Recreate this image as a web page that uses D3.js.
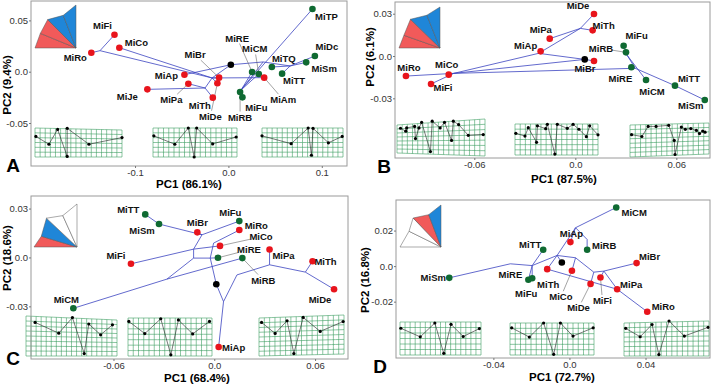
<!DOCTYPE html>
<html>
<head>
<meta charset="utf-8">
<script src="https://cdn.jsdelivr.net/npm/d3@7"></script>
<style>
  body { margin: 0; background: #fff; }
  svg { display: block; }
  text { font-family: "Liberation Sans", Arial, sans-serif; }
</style>
</head>
<body>
<div id="chart"></div>
<script>
// ---- data (PC scores of tips, estimated ancestral nodes) ----
const taxaA = ["MiTP","MiDc","MiSm","MiTQ","MiTT","MiRE","MiCM","MiAm","MiFu","MiRB","MiFi","MiCo","MiRo","MiBr","MiAp","MiJe","MiPa","MiDe","MiTh"];
const pc1A  = [0.090,0.0926,0.0833,0.0465,0.0575,0.0254,0.0325,0.0383,0.0150,0.0125,-0.122,-0.1168,-0.1468,-0.010,-0.0471,-0.0868,-0.0429,-0.0118,-0.0167];
const pc2A  = [0.0611,0.0153,0.0091,0.0046,-0.0019,-0.0003,-0.0022,-0.0058,-0.025,-0.0198,0.036,0.0234,0.0185,-0.0058,-0.0029,-0.0172,-0.0117,-0.0113,-0.0253];
const groupA = ["g","g","g","g","g","g","g","r","g","g","r","r","r","r","r","r","r","r","r"];
const ancA = [["root",0.0026,0.0068],["a1",-0.0175,-0.0061],["a2",-0.1375,0.0205],["a3",-0.025,-0.0159],["a4",0.0372,0.0095],["a5",0.0136,-0.0178],["a6",0.0661,0.0056]];
const edgesA = [["root","a1"],["root","a4"],["a1","a2"],["a2","MiRo"],["a2","MiFi"],["a1","MiCo"],["a1","MiBr"],["a1","MiDe"],["a1","a3"],["root","MiAp"],["a3","MiPa"],["a3","MiJe"],["a3","MiTh"],["a1","MiAm"],["a4","a5"],["a5","MiRB"],["a5","MiFu"],["a5","MiTP"],["a5","MiRE"],["a5","MiCM"],["a4","a6"],["a6","MiSm"],["a6","MiDc"],["a6","MiTT"],["a6","MiTQ"]];

const taxaB = ["MiDe","MiTh","MiPa","MiAp","MiBr","MiRo","MiCo","MiFi","MiFu","MiRB","MiRE","MiCM","MiTT","MiSm"];
const pc1B  = [0.0111,0.0103,-0.0152,-0.0206,0.0111,-0.1006,-0.0752,-0.0857,0.0287,0.0301,0.0333,0.042,0.0592,0.0769];
const pc2B  = [0.0298,0.0182,0.0123,0.0033,-0.0035,-0.0142,-0.0132,-0.0198,0.0073,0.0026,-0.0080,-0.017,-0.021,-0.0312];
const groupB = ["r","r","r","r","r","r","r","r","g","g","g","g","g","g"];
const ancB = [["root",0.0056,-0.0024],["b1",-0.0722,-0.0123],["b2",-0.0218,0.0019],["b3",0.003,0.0196],["b4",0.0356,-0.0087],["b5",0.0307,0.0007]];
const edgesB = [["root","b1"],["b1","MiRo"],["b1","MiFi"],["b1","MiCo"],["b1","b2"],["b2","MiAp"],["b2","b3"],["b3","MiPa"],["b3","MiDe"],["b3","MiTh"],["root","b2"],["root","MiBr"],["b1","b4"],["b4","MiRE"],["b4","b5"],["b5","MiFu"],["b5","MiRB"],["b5","MiCM"],["b4","MiTT"],["MiTT","MiSm"]];

const taxaC = ["MiTT","MiSm","MiBr","MiFu","MiRo","MiCo","MiRE","MiRB","MiPa","MiTh","MiDe","MiFi","MiCM","MiAp"];
const pc1C  = [-0.0411,-0.0329,-0.0101,0.0149,0.0149,0.0034,0.0022,0.0167,0.0329,0.0585,0.0713,-0.0496,-0.0839,0.0026];
const pc2C  = [0.0264,0.0205,0.0154,0.0223,0.0168,0.0071,-0.0002,-0.0004,0.0049,-0.0023,-0.0195,-0.0039,-0.0312,-0.0549];
const groupC = ["g","g","r","g","r","r","g","g","r","r","r","r","g","r"];
const ancC = [["root",0.0012,-0.0164],["c1",0.0055,-0.0271],["c2",0.0135,-0.0107],["c3",0.0329,-0.0045],["c4",0.0542,-0.0090],["c5",-0.0024,-0.0004],["c6",-0.0123,-0.0004],["c7",-0.0282,-0.0133],["c8",-0.0073,0.0139],["c9",-0.0123,0.0051],["c10",-0.0004,0.0088]];
const edgesC = [["root","c1"],["c1","MiAp"],["c1","c2"],["c2","c3"],["c3","MiPa"],["c3","c4"],["c4","MiTh"],["c4","MiDe"],["root","c5"],["c5","MiRE"],["c5","c6"],["c6","c7"],["c7","MiCM"],["c7","MiRB"],["c6","c9"],["c9","MiFi"],["c9","MiCo"],["c9","c8"],["c8","MiBr"],["c8","MiFu"],["c8","MiSm"],["MiSm","MiTT"],["c5","c10"],["c10","MiRo"]];

const taxaD = ["MiCM","MiAp","MiRB","MiTT","MiBr","MiTh","MiCo","MiSm","MiRE","MiFu","MiFi","MiDe","MiPa","MiRo"];
const pc1D  = [0.0246,0.0005,0.0093,-0.0138,0.0353,-0.0117,0.0013,-0.0632,-0.0216,-0.0196,0.0163,0.0111,0.0251,0.0409];
const pc2D  = [0.0330,0.0135,0.0092,0.0092,0.0017,-0.0017,-0.0026,-0.0066,-0.0077,-0.0068,-0.0064,-0.0100,-0.0130,-0.0257];
const groupD = ["g","r","g","g","r","r","r","g","g","g","r","r","r","r"];
const ancD = [["root",-0.004,0.0020],["d1",-0.0311,0.0013],["d2",-0.0196,0.0003],["d3",-0.0065,0.0060],["d4",0.0032,0.0216],["d5",0.0032,0.0047],["d6",0.0128,-0.0034],["d7",0.0181,-0.0028],["d8",0.0093,0.0150]];
const edgesD = [["root","d3"],["d3","d2"],["d2","d1"],["d1","MiSm"],["d2","MiRE"],["d2","MiFu"],["d2","MiTT"],["d3","d4"],["d4","MiCM"],["d4","MiAp"],["d4","d8"],["d8","MiRB"],["d3","MiTh"],["d3","d5"],["d5","MiCo"],["d5","d6"],["d6","MiDe"],["d6","d7"],["d7","MiFi"],["d7","MiBr"],["d7","MiPa"],["MiTh","MiPa"],["MiPa","MiRo"]];

// axis ticks
const xTicksA = [-0.1, 0, 0.1],    xTickLabA = ["-0.1","0.0","0.1"];
const yTicksA = [-0.05, 0, 0.05],  yTickLabA = ["-0.05","0.0","0.05"];
const xTicksB = [-0.06, 0, 0.06],  xTickLabB = ["-0.06","0.0","0.06"];
const yTicksB = [-0.03, 0, 0.03],  yTickLabB = ["-0.03","0.0","0.03"];
const xTicksC = [-0.06, 0, 0.06],  xTickLabC = ["-0.06","0.0","0.06"];
const yTicksC = [-0.03, 0, 0.03],  yTickLabC = ["-0.03","0.0","0.03"];
const xTicksD = [-0.04, 0, 0.04],  xTickLabD = ["-0.04","0.0","0.04"];
const yTicksD = [-0.02, 0, 0.02],  yTickLabD = ["-0.02","0.0","0.02"];

// landmark configurations of the deformation grids (0-100 inside each inset)
const lmA1 = [[1,29],[16,56],[26,5],[37,98],[37,1],[62,56],[100,33]];
const lmA2 = [[1,27],[26,56],[42,0],[49,100],[52,0],[71,55],[99,31]];
const lmA3 = [[0,27],[36,54],[57,0],[61,94],[63,1],[82,51],[99,29]];
const lmB1 = [[4,25],[10,33],[11,24],[20,20],[21,53],[25,24],[28,9],[38,88],[40,6],[49,24],[54,9],[62,58],[64,6],[70,15],[81,44],[98,42]];
const lmB2 = [[1,30],[12,39],[16,12],[26,59],[27,6],[37,15],[39,1],[48,97],[51,1],[63,14],[70,1],[77,17],[86,41],[90,6],[100,35]];
const lmB3 = [[2,38],[15,43],[23,15],[33,15],[49,12],[56,54],[57,93],[65,17],[70,23],[77,21],[84,26],[88,35],[92,28],[95,31]];
const lmC1 = [[10,16],[36,43],[51,4],[64,94],[69,20],[82,47],[95,22]];
const lmC2 = [[1,9],[20,41],[39,2],[51,97],[60,5],[77,42],[97,9]];
const lmC3 = [[3,18],[19,45],[33,14],[41,94],[52,6],[72,40],[99,16]];
const lmD1 = [[1,19],[25,45],[43,3],[54,95],[63,7],[78,44],[98,20]];
const lmD2 = [[2,15],[23,44],[40,0],[52,98],[60,0],[75,41],[99,15]];
const lmD3 = [[2,21],[19,45],[33,10],[41,96],[53,0],[71,43],[99,18]];

// shape icons: outline vertices fanned from the lower-right corner, one colour per triangle
const iconVA = [[0,1],[0.13,0.66],[0.31,0.34],[0.69,0.24],[1,0]], iconFA = ["red","red","blue","blue"];
const iconVB = [[0,1],[0.12,0.69],[0.28,0.30],[0.68,0.20],[1,0]], iconFB = ["red","red","blue","blue"];
const iconVC = [[0,1],[0.17,0.75],[0.29,0.33],[0.67,0.27],[1,0]], iconFC = ["red","blue","white","white"];
const iconVD = [[0,1],[0.22,0.625],[0.32,0.31],[0.70,0.23],[1,0]], iconFD = ["white","white","red","blue"];

// ---- layout (label offsets in px from the point) ----
const labA = {MiTP:[14,7],MiDc:[12,-10],MiSm:[18,6],MiTQ:[12,-8],MiTT:[12,7],MiRE:[-15,-34],MiCM:[-4,-25],MiAm:[19,22],MiFu:[14,10],MiRB:[0,25],MiFi:[-12,-9],MiCo:[17,-5],MiRo:[-16,5],MiBr:[-24,-23],MiAp:[-18,1],MiJe:[-20,7],MiPa:[-17,16],MiTh:[-13,8],MiDe:[-7,33]};
const labB = {MiDe:[-16,-8],MiTh:[11,-5],MiPa:[-9,-9],MiAp:[-15,-6],MiBr:[-9,8],MiRo:[3,-9],MiCo:[-2,-10],MiFi:[12,4],MiFu:[13,-10],MiRB:[-25,-4],MiRE:[-11,11],MiCM:[6,11],MiTT:[14,-7],MiSm:[-14,5]};
const labC = {MiTT:[-17,-5],MiSm:[-17,6],MiBr:[0,-10],MiFu:[-9,-9],MiRo:[17,-5],MiCo:[41,-9],MiRE:[31,-8],MiRB:[21,22],MiPa:[14,6],MiTh:[13,0],MiDe:[-14,10],MiFi:[-15,-8],MiCM:[-7,-9],MiAp:[15,1]};
const labD = {MiCM:[18,5],MiAp:[1,-9],MiRB:[17,-4],MiTT:[-13,-5],MiBr:[13,-7],MiSm:[-16,0],MiRE:[-18,-5],MiFu:[-6,15],MiTh:[1,15],MiCo:[-11,26],MiDe:[-12,24],MiFi:[2,23],MiPa:[14,-5],MiRo:[16,-5]};

const panels = [
  {id:"A", ox:0, oy:0, rect:[31,1,347,166], xd:[-0.2114,0.127], yd:[-0.0919,0.0689],
   taxa:taxaA, pc1:pc1A, pc2:pc2A, grp:groupA, anc:ancA, edges:edgesA, lab:labA, lead:["MiRE","MiCM","MiAm","MiRB","MiBr","MiPa","MiDe"],
   xt:xTicksA, xtl:xTickLabA, yt:yTicksA, ytl:yTickLabA, xTitle:"PC1 (86.1%)", yTitle:"PC2 (9.4%)",
   xTitlePos:[189,184], yTitlePos:[7,85], letter:[13,165],
   icon:{box:[35,5,41,43], v:iconVA, f:iconFA},
   grids:[{box:[35,128,87,29], warp:[0,0,0,2,0,0,0,0], lm:lmA1},{box:[153,128,84,29], warp:[0,0,0,0,0,0,0,0], lm:lmA2},{box:[262,128,81,29], warp:[0,0,0,0,0,0,0,0], lm:lmA3}]},
  {id:"B", ox:357, oy:0, rect:[38,2,353,158], xd:[-0.1071,0.080], yd:[-0.0723,0.0383],
   taxa:taxaB, pc1:pc1B, pc2:pc2B, grp:groupB, anc:ancB, edges:edgesB, lab:labB, lead:["MiRB"],
   xt:xTicksB, xtl:xTickLabB, yt:yTicksB, ytl:yTickLabB, xTitle:"PC1 (87.5%)", yTitle:"PC2 (6.1%)",
   xTitlePos:[207,179], yTitlePos:[13,57], letter:[27,166],
   icon:{box:[42,7,41,41], v:iconVB, f:iconFB},
   grids:[{box:[40,119,88,37], warp:[0,6,0,0,0,-3,0,0], lm:lmB1},{box:[158,124,83,31], warp:[0,0,0,0,0,0,0,0], lm:lmB2},{box:[273,121,79,36], warp:[0,4,0,2,0,0,0,-3], lm:lmB3}]},
  {id:"C", ox:0, oy:193, rect:[31,3,348,166], xd:[-0.1091,0.0796], yd:[-0.0623,0.0377],
   taxa:taxaC, pc1:pc1C, pc2:pc2C, grp:groupC, anc:ancC, edges:edgesC, lab:labC, lead:["MiCo","MiRE","MiRB"],
   xt:xTicksC, xtl:xTickLabC, yt:yTicksC, ytl:yTickLabC, xTitle:"PC1 (68.4%)", yTitle:"PC2 (18.6%)",
   xTitlePos:[197,184.5], yTitlePos:[7,65], letter:[13,165],
   icon:{box:[34,11,43,43], v:iconVC, f:iconFC},
   grids:[{box:[26,123,91,40], warp:[0,0,0,4,0,0,0,0], lm:lmC1},{box:[128,125,84,38], warp:[0,0,0,0,0,0,0,0], lm:lmC2},{box:[259,122,85,41], warp:[0,3,0,0,0,0,0,-2], lm:lmC3}]},
  {id:"D", ox:357, oy:193, rect:[39,7,353,165], xd:[-0.0912,0.0739], yd:[-0.0517,0.0372],
   taxa:taxaD, pc1:pc1D, pc2:pc2D, grp:groupD, anc:ancD, edges:edgesD, lab:labD, lead:["MiCo","MiDe","MiFi"],
   xt:xTicksD, xtl:xTickLabD, yt:yTicksD, ytl:yTickLabD, xTitle:"PC1 (72.7%)", yTitle:"PC2 (16.8%)",
   xTitlePos:[205,184], yTitlePos:[8,87], letter:[23,173],
   icon:{box:[43,12,41,42], v:iconVD, f:iconFD},
   grids:[{box:[43,129,81,33], warp:[0,0,0,0,0,0,0,0], lm:lmD1},{box:[153,130,84,32], warp:[0,0,0,0,0,0,0,0], lm:lmD2},{box:[267,128,85,35], warp:[0,2,0,0,0,0,0,0], lm:lmD3}]}
];

const ptCol = {r:"#e8141c", g:"#0f6a32", root:"#000"};
const iconCol = {red:"#f15a5a", blue:"#1f86d8", white:"#fff"};

const svg = d3.select("#chart").append("svg")
    .attr("width", 714).attr("height", 386);

panels.forEach(p => {
  const [x0, y0, x1, y1] = p.rect;
  const x = d3.scaleLinear().domain(p.xd).range([x0, x1]);
  const y = d3.scaleLinear().domain(p.yd).range([y1, y0]);
  const g = svg.append("g").attr("transform", `translate(${p.ox},${p.oy})`);

  // position lookup for tips and internal nodes
  const pos = {};
  p.taxa.forEach((t, i) => pos[t] = [x(p.pc1[i]), y(p.pc2[i])]);
  p.anc.forEach(a => pos[a[0]] = [x(a[1]), y(a[2])]);

  // deformation grids
  p.grids.forEach(gr => {
    const [bx, by, bw, bh] = gr.box, w = gr.warp;
    const warp = (u, v) => [
      bx + u * bw + (1-u)*(1-v)*w[0] + u*(1-v)*w[2] + (1-u)*v*w[4] + u*v*w[6],
      by + v * bh + (1-u)*(1-v)*w[1] + u*(1-v)*w[3] + (1-u)*v*w[5] + u*v*w[7]
    ];
    const nc = Math.round(bw / 5.2), nr = Math.round(bh / 5.2);
    const lines = [];
    for (let i = 0; i <= nc; i++) lines.push(d3.range(0, 1.001, 0.1).map(v => warp(i / nc, v)));
    for (let j = 0; j <= nr; j++) lines.push(d3.range(0, 1.001, 0.05).map(u => warp(u, j / nr)));
    g.append("g").selectAll("path").data(lines).join("path")
      .attr("d", d3.line()).attr("fill", "none")
      .attr("stroke", "#3c9d62").attr("stroke-width", 0.6);
    const lx = d3.scaleLinear().domain([0, 100]).range([bx, bx + bw]);
    const ly = d3.scaleLinear().domain([0, 100]).range([by, by + bh]);
    g.append("path").datum(gr.lm)
      .attr("d", d3.line(d => lx(d[0]), d => ly(d[1])))
      .attr("fill", "none").attr("stroke", "#222").attr("stroke-width", 0.6);
    g.append("g").selectAll("circle").data(gr.lm).join("circle")
      .attr("cx", d => lx(d[0])).attr("cy", d => ly(d[1])).attr("r", 1.6).attr("fill", "#000");
  });

  // shape icon
  const [ix, iy, iw, ih] = p.icon.box;
  const apex = [ix + iw, iy + ih];
  const vv = p.icon.v.map(d => [ix + d[0] * iw, iy + d[1] * ih]);
  p.icon.f.forEach((c, i) => {
    g.append("path").attr("d", d3.line()([vv[i], vv[i + 1], apex]) + "Z")
      .attr("fill", iconCol[c]).attr("stroke", "#555").attr("stroke-width", 0.5);
  });

  // tree branches
  g.append("g").selectAll("line").data(p.edges).join("line")
    .attr("x1", d => pos[d[0]][0]).attr("y1", d => pos[d[0]][1])
    .attr("x2", d => pos[d[1]][0]).attr("y2", d => pos[d[1]][1])
    .attr("stroke", "#3b44c0").attr("stroke-width", 0.8);

  // leader lines
  p.lead.forEach(t => {
    const [px, py] = pos[t], o = p.lab[t];
    const lx = px + o[0], ly = py + o[1];
    const dx = px - lx, dy = py - ly, L = Math.hypot(dx, dy);
    const s = Math.min(dx ? 11 / Math.abs(dx) : 9, dy ? 5.5 / Math.abs(dy) : 9);
    g.append("line")
      .attr("x1", lx + dx * s).attr("y1", ly + dy * s)
      .attr("x2", px - dx / L * 3).attr("y2", py - dy / L * 3)
      .attr("stroke", "#666").attr("stroke-width", 0.6);
  });

  // points
  g.append("circle").attr("cx", pos.root[0]).attr("cy", pos.root[1]).attr("r", 3.3).attr("fill", ptCol.root);
  g.append("g").selectAll("circle").data(p.taxa).join("circle")
    .attr("cx", d => pos[d][0]).attr("cy", d => pos[d][1])
    .attr("r", 3.3).attr("fill", (d, i) => ptCol[p.grp[i]]);

  // tip labels
  g.append("g").selectAll("text").data(p.taxa).join("text")
    .attr("x", d => pos[d][0] + p.lab[d][0])
    .attr("y", d => pos[d][1] + p.lab[d][1])
    .attr("text-anchor", "middle").attr("dominant-baseline", "central")
    .style("font-size", "9.5px").style("font-weight", "bold").attr("fill", "#111")
    .text(d => d);

  // frame
  g.append("rect").attr("x", x0).attr("y", y0).attr("width", x1 - x0).attr("height", y1 - y0)
    .attr("fill", "none").attr("stroke", "#9a9a9a").attr("stroke-width", 1);

  // axes
  const xa = g.append("g").attr("transform", `translate(0,${y1})`)
    .call(d3.axisBottom(x).tickValues(p.xt).tickFormat((d, i) => p.xtl[i]).tickSize(2).tickPadding(1));
  const ya = g.append("g").attr("transform", `translate(${x0},0)`)
    .call(d3.axisLeft(y).tickValues(p.yt).tickFormat((d, i) => p.ytl[i]).tickSize(2).tickPadding(1));
  [xa, ya].forEach(a => {
    a.select(".domain").remove();
    a.selectAll(".tick line").attr("stroke", "#777");
    a.selectAll("text").style("font-size", "9.5px").attr("fill", "#333")
      .style("font-family", "'Liberation Sans', Arial, sans-serif");
  });

  // titles
  g.append("text").attr("x", p.xTitlePos[0]).attr("y", p.xTitlePos[1])
    .attr("text-anchor", "middle").attr("dominant-baseline", "central")
    .style("font-size", "11.5px").style("font-weight", "bold").text(p.xTitle);
  g.append("text")
    .attr("transform", `translate(${p.yTitlePos[0]},${p.yTitlePos[1]}) rotate(-90)`)
    .attr("text-anchor", "middle").attr("dominant-baseline", "central")
    .style("font-size", "11.5px").style("font-weight", "bold").text(p.yTitle);
  g.append("text").attr("x", p.letter[0]).attr("y", p.letter[1])
    .attr("text-anchor", "middle").attr("dominant-baseline", "central")
    .style("font-size", "19px").style("font-weight", "bold").text(p.id);
});
</script>
</body>
</html>
